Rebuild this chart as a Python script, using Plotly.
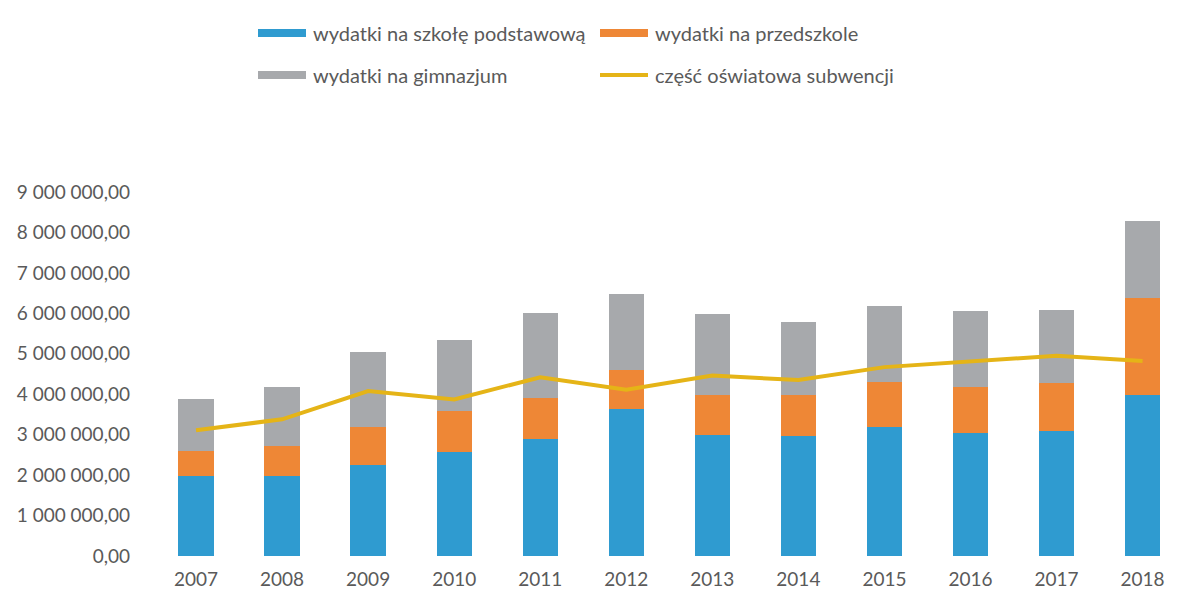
import plotly.graph_objects as go

years = ["2007", "2008", "2009", "2010", "2011", "2012", "2013", "2014", "2015", "2016", "2017", "2018"]
szkola = [1970000, 1970000, 2250000, 2560000, 2900000, 3640000, 2990000, 2970000, 3190000, 3050000, 3080000, 3980000]
przedszkole = [630000, 760000, 950000, 1020000, 1010000, 970000, 980000, 1010000, 1100000, 1120000, 1200000, 2410000]
gimnazjum = [1280000, 1460000, 1850000, 1770000, 2110000, 1880000, 2010000, 1800000, 1890000, 1880000, 1800000, 1900000]
subwencja = [3110000, 3380000, 4080000, 3870000, 4420000, 4110000, 4460000, 4350000, 4670000, 4800000, 4950000, 4820000]

names = ["wydatki na szkołę podstawową", "wydatki na przedszkole", "wydatki na gimnazjum", "część oświatowa subwencji"]
colors = ["#2f9bd0", "#ee8736", "#a7a9ac", "#e5b417"]
ytick_vals = [0, 1e6, 2e6, 3e6, 4e6, 5e6, 6e6, 7e6, 8e6, 9e6]

FONT = "Lato, 'Open Sans', sans-serif"
TXT = "#5a5a5a"

fig = go.Figure()
for vals, name, col in zip([szkola, przedszkole, gimnazjum], names[:3], colors[:3]):
    fig.add_trace(go.Bar(x=years, y=vals, name=name, marker=dict(color=col, line=dict(width=0)),
                         showlegend=False))
fig.add_trace(go.Scatter(x=years, y=subwencja, name=names[3], mode="lines",
                         line=dict(color=colors[3], width=4), showlegend=False))

# manual legend (two rows, wide flat swatches like the original)
W, H = 1177, 594
L, T, B = 153, 192, 556
legend_items = [(names[0], colors[0], 258, 33, "bar"), (names[1], colors[1], 600, 33, "bar"),
                (names[2], colors[2], 258, 75, "bar"), (names[3], colors[3], 600, 75, "line")]
shapes = []
annotations = []
px = lambda x: (x - L) / (W - L)
py = lambda y: (B - y) / (B - T)
for name, col, x0, yc, kind in legend_items:
    x1 = x0 + 48
    if kind == "bar":
        shapes.append(dict(type="rect", xref="paper", yref="paper",
                           x0=px(x0), x1=px(x1), y0=py(yc + 4), y1=py(yc - 4),
                           fillcolor=col, line=dict(width=0)))
    else:
        shapes.append(dict(type="line", xref="paper", yref="paper",
                           x0=px(x0), x1=px(x1), y0=py(yc), y1=py(yc),
                           line=dict(color=col, width=4)))
    annotations.append(dict(text=name, xref="paper", yref="paper",
                            x=px(x1 + 5), y=py(yc),
                            xanchor="left", yanchor="middle", showarrow=False,
                            font=dict(family=FONT, size=20, color=TXT)))

fig.update_layout(
    barmode="stack",
    bargap=0.59,
    width=W, height=H,
    margin=dict(l=L, r=0, t=T, b=H - B),
    paper_bgcolor="white", plot_bgcolor="white",
    separators=", ",
    font=dict(family=FONT, color=TXT),
    shapes=shapes,
    annotations=annotations,
    showlegend=False,
)
fig.update_xaxes(type="category", range=[-0.5, 11.4], showgrid=False, showline=False, zeroline=False,
                 ticks="", tickfont=dict(size=19, color=TXT, family=FONT), ticklabelstandoff=10)
fig.update_yaxes(range=[0, 9000000], tickvals=ytick_vals, tickformat=",.2f", showgrid=False,
                 showline=False, zeroline=False, ticks="",
                 tickfont=dict(size=19, color=TXT, family=FONT), ticklabelstandoff=22)

fig.write_html("out.html", config={"displayModeBar": False},
               post_script="document.body.style.margin='0';document.body.style.overflow='hidden';")
